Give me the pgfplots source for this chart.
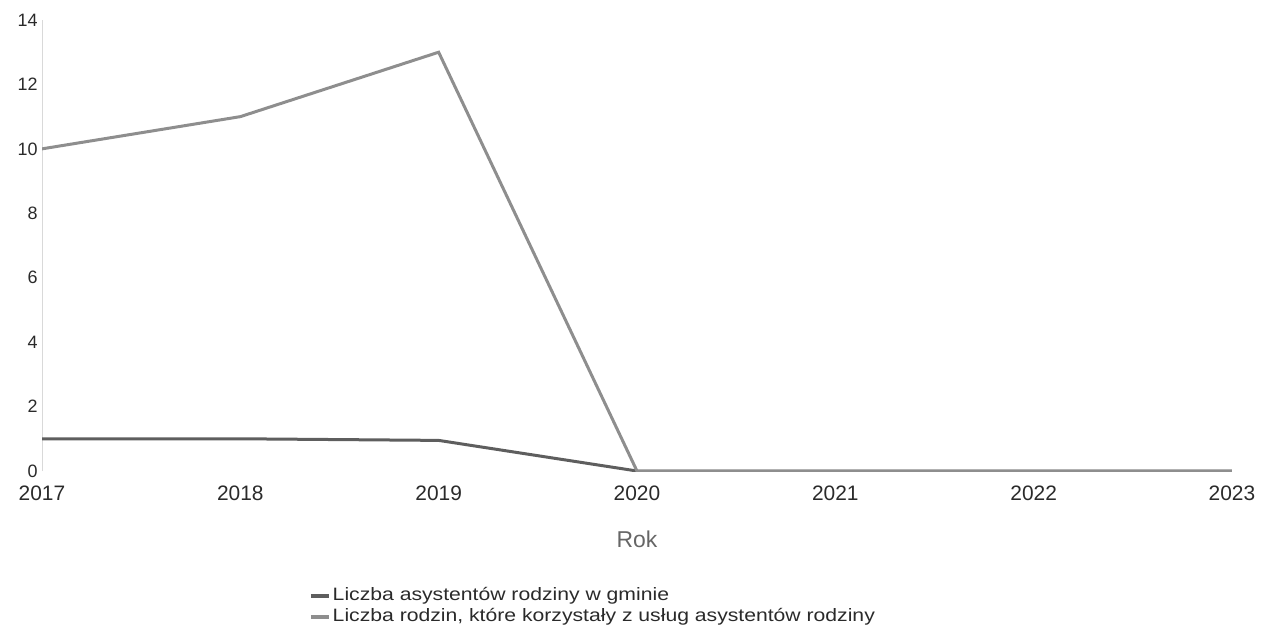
\documentclass[border=0pt]{standalone}
\usepackage{pgfplots}
\pgfplotsset{compat=1.18}
\usepackage{fontspec}
\setmainfont{Liberation Sans}
\newfontfamily\widefont[FakeStretch=1.18]{Liberation Sans}
\definecolor{lineA}{HTML}{5E5E5E}
\definecolor{lineB}{HTML}{8E8E8E}
\definecolor{txt}{HTML}{2A2A2A}
\begin{document}
\begin{tikzpicture}[x=1bp,y=1bp]
\path[use as bounding box] (-42bp,-159bp) rectangle (1221bp,471bp);
\begin{axis}[
  at={(0,0)}, anchor=south west,
  scale only axis, width=1190bp, height=451bp,
  xmin=2017, xmax=2023, ymin=0, ymax=14,
  xtick={2017,2018,...,2023}, ytick={0,2,...,14},
  /pgf/number format/assume math mode=true,
  /pgf/number format/set thousands separator={},
  major tick length=0pt,
  axis x line*=bottom, axis y line*=left,
  x axis line style={draw=none},
  y axis line style={draw=black!15, line width=0.8bp, -},
  yticklabel style={font=\fontsize{18}{20}\selectfont, text=txt, xshift=-1bp},
  xticklabel style={font=\fontsize{21}{24}\selectfont, text=txt, yshift=-11bp},
  xlabel={Rok},
  xlabel style={font=\fontsize{23}{26}\selectfont, text=black!60, yshift=-24bp},
  legend style={at={(0.224,-0.254)}, anchor=north west, draw=none, fill=none,
    font=\widefont\fontsize{18}{20}\selectfont, row sep=0.5bp, text=txt,
    inner sep=0pt, nodes={text height=13bp, text depth=3.5bp}},
  legend cell align=left,
  legend image code/.code={\draw[#1, line width=4bp] (0bp,0bp) -- (18bp,0bp);},
]
\addplot[lineA, line width=3bp] coordinates {(2017,1) (2018,1) (2019,0.95) (2020,0) (2021,0) (2022,0) (2023,0)};
\addlegendentry{Liczba asystentów rodziny w gminie}
\addplot[lineB, line width=3bp] coordinates {(2017,10) (2018,11) (2019,13) (2020,0) (2021,0) (2022,0) (2023,0)};
\addlegendentry{Liczba rodzin, które korzystały z usług asystentów rodziny}
\end{axis}
\end{tikzpicture}
\end{document}
